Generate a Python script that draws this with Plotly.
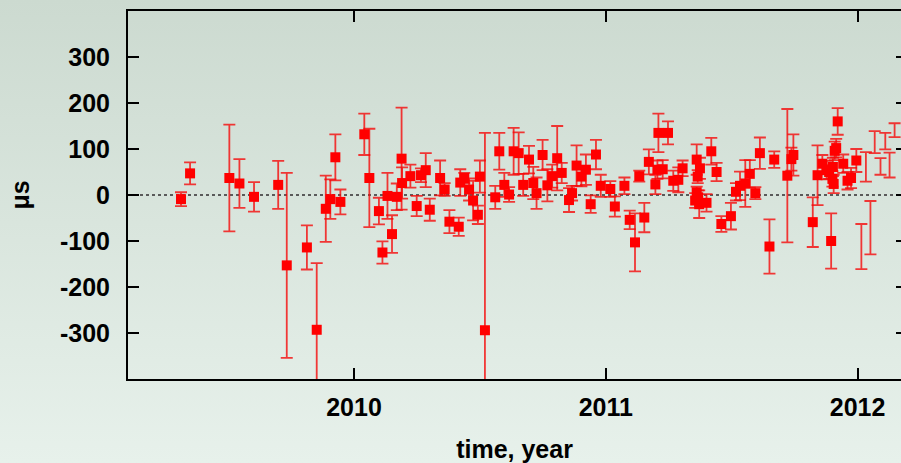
import base64
import plotly.graph_objects as go

# ---- data (decimal year, microseconds, error) ----
t_main = [2009.313, 2009.349, 2009.505, 2009.545, 2009.603, 2009.699, 2009.733, 2009.813,
          2009.852, 2009.888, 2009.906, 2009.926, 2009.946, 2010.041, 2010.061, 2010.099,
          2010.113, 2010.133, 2010.151, 2010.170, 2010.189, 2010.191, 2010.224, 2010.249,
          2010.266, 2010.285, 2010.301, 2010.342, 2010.360, 2010.379, 2010.416, 2010.422,
          2010.438, 2010.457, 2010.473, 2010.492, 2010.500, 2010.520, 2010.561, 2010.577,
          2010.597, 2010.616, 2010.634, 2010.654, 2010.672, 2010.695, 2010.712, 2010.725,
          2010.749, 2010.768, 2010.787, 2010.807, 2010.825, 2010.854, 2010.866, 2010.884,
          2010.903, 2010.921, 2010.940, 2010.961, 2010.980, 2011.018, 2011.036, 2011.074,
          2011.095, 2011.116, 2011.133, 2011.153, 2011.171, 2011.197, 2011.209, 2011.205,
          2011.226, 2011.247, 2011.268, 2011.288, 2011.305, 2011.361, 2011.374, 2011.365,
          2011.361, 2011.367, 2011.371, 2011.400, 2011.355, 2011.419, 2011.440, 2011.459,
          2011.497, 2011.517, 2011.533, 2011.554, 2011.572, 2011.594, 2011.612, 2011.650,
          2011.669, 2011.721, 2011.737, 2011.745, 2011.822, 2011.841, 2011.860, 2011.877,
          2011.887, 2011.895, 2011.900, 2011.902, 2011.909, 2011.915, 2011.921, 2011.905,
          2011.943, 2011.960, 2011.974, 2011.995]
v_main = [-9, 47, 37, 25, -4, 22, -153, -114,
          -293, -30, -9, 82, -15, 132, 37, -35,
          -125, -2, -85, -4, 79, 26, 41, -24,
          43, 54, -32, 37, 12, -58, -69, 27,
          37, 12, -12, -43, 40, -294, -5, 95,
          22, 1, 95, 91, 22, 77, 26, 4,
          87, 21, 41, 80, 48, -11, 4, 64,
          40, 55, -20, 88, 20, 13, -25, 20,
          -54, -103, 41, -49, 72, 23, 135, 55,
          56, 135, 31, 33, 58, 77, 58, 40,
          6, -5, -20, -17, -12, 95, 50, -63,
          -46, 7, 20, 25, 46, 4, 91, -112,
          77, 42, 78, 87, -59, 43, 68, 54,
          50, -100, 35, 61, 96, 102, 160, 24,
          68, 31, 37, 75]
e_main = [15, 24, 116, 53, 32, 52, 201, 48,
          145, 72, 43, 50, 27, 45, 107, 29,
          24, 50, 41, 29, 111, 34, 25, 22,
          15, 37, 24, 38, 14, 25, 20, 29,
          11, 24, 43, 20, 35, 429, 25, 40,
          26, 16, 51, 45, 24, 30, 35, 34,
          33, 35, 25, 70, 22, 26, 16, 44,
          21, 33, 19, 32, 24, 17, 22, 18,
          20, 63, 12, 32, 27, 21, 42, 20,
          20, 25, 22, 27, 17, 33, 23, 14,
          12, 15, 30, 19, 16, 29, 20, 17,
          29, 19, 31, 51, 30, 13, 34, 59,
          18, 145, 25, 45, 54, 65, 19, 20,
          15, 60, 17, 20, 20, 20, 29, 20,
          20, 19, 22, 25]

t_bars = [2012.015, 2012.033, 2012.051, 2012.068, 2012.091, 2012.110, 2012.127, 2012.147]
v_bars = [-112, 61, -71, 115, 62, 117, 65, 141]
e_bars = [49, 32, 58, 24, 18, 18, 27, 15]

year_ticks = [2010, 2011, 2012]
us_ticks = [-300, -200, -100, 0, 100, 200, 300]

W, H = 901, 463
ML, MR, MT, MB = 128, 0, 11, 84
pw, ph = W - ML - MR, H - MT - MB

svg = ('<svg xmlns="http://www.w3.org/2000/svg" width="100" height="100" preserveAspectRatio="none">'
       '<defs><linearGradient id="g" x1="0" y1="0" x2="0" y2="1">'
       '<stop offset="0" stop-color="#ccdad0"/><stop offset="1" stop-color="#e7f1eb"/>'
       '</linearGradient></defs><rect width="100" height="100" fill="url(#g)"/></svg>')
bg_src = "data:image/svg+xml;base64," + base64.b64encode(svg.encode()).decode()

FONT = dict(family="Liberation Sans, Arial, sans-serif", size=25, color="black", weight="bold")

fig = go.Figure()
fig.add_trace(go.Scatter(
    x=t_main, y=v_main, mode="markers",
    marker=dict(symbol="square", size=10, color="#ff0000", line=dict(width=0)),
    error_y=dict(type="data", array=e_main, visible=True, color="rgba(245,10,10,0.8)",
                 thickness=1.8, width=6),
    showlegend=False, cliponaxis=True))
fig.add_trace(go.Scatter(
    x=t_bars, y=v_bars, mode="markers", yaxis="y2",
    marker=dict(symbol="square", size=10, color="#ff0000", opacity=0),
    error_y=dict(type="data", array=e_bars, visible=True, color="rgba(245,10,10,0.8)",
                 thickness=1.8, width=6),
    showlegend=False))

fig.update_layout(
    width=W, height=H,
    margin=dict(l=ML, r=MR, t=MT, b=MB, pad=0),
    paper_bgcolor="#dae6de", plot_bgcolor="rgba(0,0,0,0)",
    font=FONT,
    images=[dict(source=bg_src, xref="paper", yref="paper",
                 x=-ML / pw, y=1 + MT / ph, sizex=W / pw, sizey=H / ph,
                 sizing="stretch", layer="below", xanchor="left", yanchor="top")],
    shapes=[dict(type="line", xref="paper", yref="y", x0=0, x1=1, y0=0, y1=0,
                 line=dict(color="#5a5a5a", width=2, dash="dot"), layer="below")],
    xaxis=dict(range=[2009.1025, 2012.1724], tickvals=year_ticks, ticktext=[str(v) for v in year_ticks],
               ticks="inside", ticklen=11, tickwidth=2, tickcolor="black",
               showline=True, linewidth=2, linecolor="black", mirror="ticks",
               showgrid=False, zeroline=False, tickfont=FONT, ticklabelstandoff=5,
               title=dict(text="time, year", font=FONT, standoff=21)),
    yaxis=dict(range=[-400, 400], tickvals=us_ticks, ticktext=[str(v) for v in us_ticks],
               ticks="inside", ticklen=11, tickwidth=2, tickcolor="black",
               showline=True, linewidth=2, linecolor="black", mirror=False,
               showgrid=False, zeroline=False, tickfont=FONT, ticklabelstandoff=11,
               title=dict(text="μs", font=FONT, standoff=23)),
    yaxis2=dict(range=[-400, 400], overlaying="y", side="right", anchor="x",
                tickvals=us_ticks, ticks="inside", ticklen=5, tickwidth=2, tickcolor="black",
                showticklabels=False, showline=False, showgrid=False, zeroline=False),
)

fig.write_html("out.html",
               config={"displayModeBar": False},
               post_script="document.body.style.margin='0';document.body.style.overflow='hidden';")
